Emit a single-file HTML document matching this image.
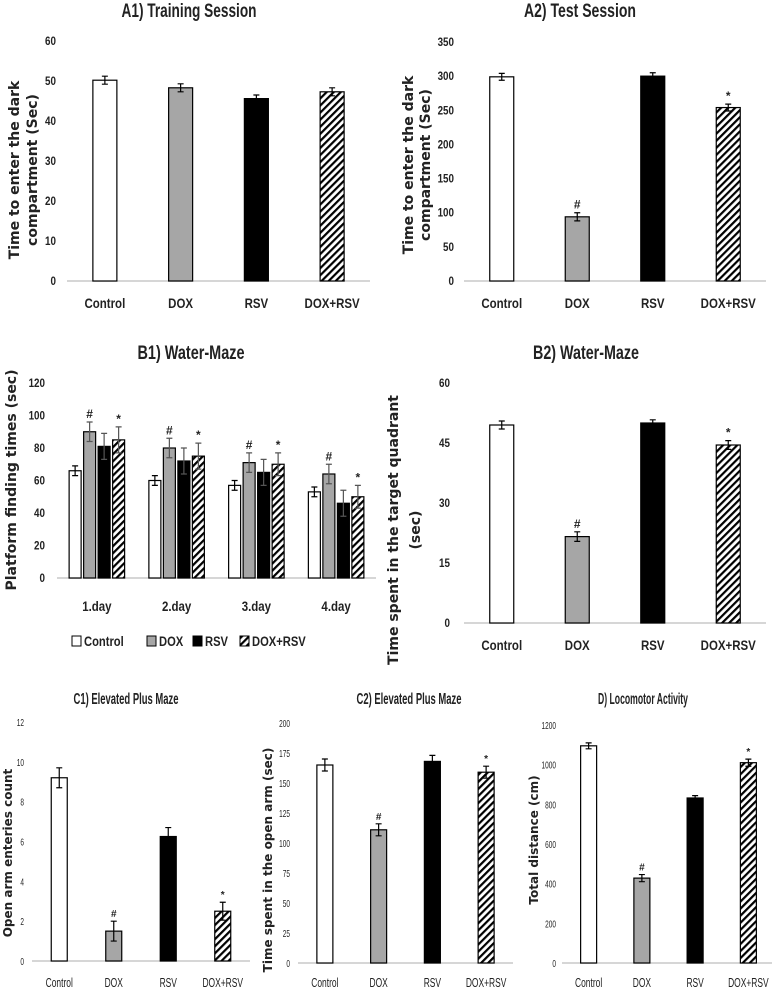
<!DOCTYPE html>
<html><head><meta charset="utf-8"><style>
body{margin:0;background:#fff}
svg{display:block}
text{font-family:"Liberation Sans",sans-serif;fill:#222}
.tick{font-size:12px;font-weight:bold}
.ctick{font-size:10px}
.title{font-size:19px;font-weight:bold}
.ytitle{font-family:"DejaVu Sans",sans-serif;font-size:14px;font-weight:bold}
</style></head><body>
<svg id="fig" width="772" height="991" viewBox="0 0 772 991" xmlns="http://www.w3.org/2000/svg">
<defs>
<pattern id="hatch" patternUnits="userSpaceOnUse" width="5" height="5" patternTransform="rotate(45)">
<rect width="5" height="5" fill="#fff"/><rect width="2.2" height="5" fill="#000"/>
</pattern>
</defs>
</svg>
<script>
const groups = ["Control","DOX","RSV","DOX+RSV"];
const days = ["1.day","2.day","3.day","4.day"];
const a1Values = [50.2, 48.3, 45.6, 47.3];
const a1Errors = [1.0, 1.0, 0.9, 1.0];
const a1Ticks = [0,10,20,30,40,50,60];
const a2Values = [299, 94, 300, 254];
const a2Errors = [5, 6, 5, 5];
const a2Ticks = [0,50,100,150,200,250,300,350];
const b1Control = [66, 60, 57, 53];
const b1Dox = [90, 80, 71, 64];
const b1Rsv = [81, 72, 65, 46];
const b1DoxRsv = [85, 75, 70, 50];
const b1Errors = [[3,3,3,3],[6,6,6,6],[8,8,8,8],[8,8,7,7]];
const b1Ticks = [0,20,40,60,80,100,120];
const b2Values = [49.5, 21.6, 50, 44.5];
const b2Errors = [1.0, 1.2, 0.8, 1.1];
const b2Ticks = [0,15,30,45,60];
const c1Values = [9.2, 1.5, 6.25, 2.5];
const c1Errors = [0.5, 0.5, 0.45, 0.45];
const c1Ticks = [0,2,4,6,8,10,12];
const c2Values = [165, 111, 168, 159];
const c2Errors = [5, 5, 5, 5];
const c2Ticks = [0,25,50,75,100,125,150,175,200];
const dValues = [1095, 428, 832, 1010];
const dErrors = [15, 18, 12, 18];
const dTicks = [0,200,400,600,800,1000,1200];
const marks = ["", "#", "", "*"];
const noMarks = ["", "", "", ""];

const NS = "http://www.w3.org/2000/svg";
const svg = document.getElementById('fig');
const fills = ["#fff","#a6a6a6","#000","url(#hatch)"];
const names = ["control","dox","rsv","dox-rsv"];
function mk(tag, attrs, parent){const e=document.createElementNS(NS,tag);for(const k in attrs)e.setAttribute(k,attrs[k]);(parent||svg).appendChild(e);return e;}
function txt(s, attrs, parent){const e=mk('text',attrs,parent);e.textContent=s;return e;}
function squeeze(el, x, f){el.setAttribute('transform',`translate(${x},0) scale(${f},1) translate(${-x},0)`);}

function panel(p){
  const g = mk('g',{});
  
  
  const max = p.ticks[p.ticks.length-1];
  const yS = v => p.yBase - (v/max)*(p.yBase-p.yTop);
  const band = (p.x1-p.x0)/p.cats.length;
  const xC = i => p.x0 + band*(i+0.5);
  const pm = p.marks || marks;
  const t = txt(p.title,{x:p.titleX,y:p.titleY,'text-anchor':'middle',class:'title'},g);
  t.setAttribute('textLength',p.titleLen);t.setAttribute('lengthAdjust','spacingAndGlyphs');
  if(p.condensed) t.style.fontSize='16px';
  
  
  const sq = p.condensed ? 0.65 : 0.82;
  p.ticks.forEach(v=>{
    const tt = txt(String(v),{x:p.tickX,y:yS(v)+4,'text-anchor':'end',class:p.tickClass},g);
    squeeze(tt,p.tickX,sq);
    
    
  });
  const ax = mk('line',{x1:p.x0,x2:p.x1,y1:p.yBase,y2:p.yBase,stroke:'#c8c8c8','stroke-width':1.5},g);
  
  
  p.cats.forEach((c,i)=>{
    const lt = txt(c,{x:xC(i),y:p.labelY,'text-anchor':'middle',class:p.tickClass},g);
    if(p.condensed){lt.style.fontSize='13px';}
    else {lt.style.fontSize='14px';}
    squeeze(lt,xC(i),sq);
    
    
  });
  p.series.forEach((vals,s)=>{
    vals.forEach((v,i)=>{
      const cx = xC(i) + (p.series.length>1 ? (s-(p.series.length-1)/2)*p.step : 0);
      const y = yS(v);
      const r = mk('rect',{x:cx-p.bw/2,y:y,width:p.bw,height:p.yBase-y,fill:fills[p.series.length>1?s:i],stroke:'#000','stroke-width':1.2},g);
      
      
      const e = p.errs(s,i);
      const col = (p.series.length>1 && s>0) ? '#555' : '#000';
      const eb = mk('path',{d:`M${cx},${yS(v+e)}V${yS(v-e)}M${cx-3},${yS(v+e)}H${cx+3}M${cx-3},${yS(v-e)}H${cx+3}`,stroke:col,'stroke-width':1.2,fill:'none'},g);
      
      
      const m = pm[p.series.length>1?s:i];
      if(m){
        const mt = txt(m,{x:cx,y:yS(v+e)-4,'text-anchor':'middle',style:'font-size:'+(p.condensed?10:12)+'px;font-weight:bold'},g);
        
        
      }
    });
  });
  const yt = mk('text',{class:'ytitle','text-anchor':'middle',transform:`translate(${p.ytX},${p.ytY}) rotate(-90)`},g);
  
  
  if(p.ytSize) yt.style.fontSize=p.ytSize+'px';
  p.ytLines.forEach((l,k)=>{const ts=mk('tspan',{x:0,dy:k?p.ytGap:0},yt);ts.textContent=l;});
  return {g,xC,yS};
}

panel({name:'panel-a1',title:'A1) Training Session',titleX:189,titleY:17,titleLen:135,cats:groups,series:[a1Values],errs:(s,i)=>a1Errors[i],marks:noMarks,
  ticks:a1Ticks,yTop:41,yBase:281,x0:67,x1:370,bw:24,tickX:56,tickClass:'tick',labelY:308,ytX:19,ytY:170,ytLines:['Time to enter the dark','compartment (Sec)'],ytGap:18});
panel({name:'panel-a2',title:'A2) Test Session',titleX:580,titleY:17,titleLen:112,cats:groups,series:[a2Values],errs:(s,i)=>a2Errors[i],
  ticks:a2Ticks,yTop:42,yBase:281,x0:464,x1:766,bw:24,tickX:454,tickClass:'tick',labelY:308,ytX:413,ytY:165,ytLines:['Time to enter the dark','compartment (Sec)'],ytGap:17});
panel({name:'panel-b1',title:'B1) Water-Maze',titleX:191,titleY:359,titleLen:107,cats:days,series:[b1Control,b1Dox,b1Rsv,b1DoxRsv],errs:(s,i)=>b1Errors[s][i],
  ticks:b1Ticks,yTop:383,yBase:578,x0:57,x1:376,bw:12,step:14.5,tickX:45,tickClass:'tick',labelY:611,ytX:16,ytY:480,ytLines:['Platform finding times (sec)'],ytGap:0});
panel({name:'panel-b2',title:'B2) Water-Maze',titleX:586,titleY:359,titleLen:106,cats:groups,series:[b2Values],errs:(s,i)=>b2Errors[i],
  ticks:b2Ticks,yTop:383,yBase:623,x0:464,x1:766,bw:24,tickX:450,tickClass:'tick',labelY:650,ytX:398,ytY:530,ytLines:['Time spent in the target quadrant','(sec)'],ytGap:22});
panel({name:'panel-c1',title:'C1) Elevated Plus Maze',titleX:126,titleY:704,titleLen:105,cats:groups,series:[c1Values],errs:(s,i)=>c1Errors[i],
  ticks:c1Ticks,yTop:722,yBase:961,x0:32,x1:250,bw:16,tickX:24,tickClass:'ctick',condensed:true,labelY:987,ytX:12,ytY:853,ytLines:['Open arm enteries count'],ytGap:0,ytSize:12});
panel({name:'panel-c2',title:'C2) Elevated Plus Maze',titleX:409,titleY:704,titleLen:105,cats:groups,series:[c2Values],errs:(s,i)=>c2Errors[i],
  ticks:c2Ticks,yTop:723,yBase:963,x0:298,x1:513,bw:16,tickX:290,tickClass:'ctick',condensed:true,labelY:987,ytX:272,ytY:860,ytLines:['Time spent in the  open arm (sec)'],ytGap:0,ytSize:12});
panel({name:'panel-d',title:'D) Locomotor Activity',titleX:643,titleY:704,titleLen:90,cats:groups,series:[dValues],errs:(s,i)=>dErrors[i],
  ticks:dTicks,yTop:725,yBase:963,x0:562,x1:775,bw:16,tickX:556,tickClass:'ctick',condensed:true,labelY:987,ytX:538,ytY:840,ytLines:['Total distance (cm)'],ytGap:0,ytSize:12});

// legend for B1
const legend = mk('g',{});


const legX = [72,147,193,240];
groups.forEach((gname,i)=>{
  const it = mk('g',{},legend);
  
  
  mk('rect',{x:legX[i],y:636,width:9,height:10,fill:fills[i],stroke:'#000','stroke-width':1},it);
  const lt = txt(gname,{x:legX[i]+12,y:646,class:'tick',style:'font-size:14px'},it);
  squeeze(lt,legX[i]+12,0.8);
});
</script>
</body></html>
